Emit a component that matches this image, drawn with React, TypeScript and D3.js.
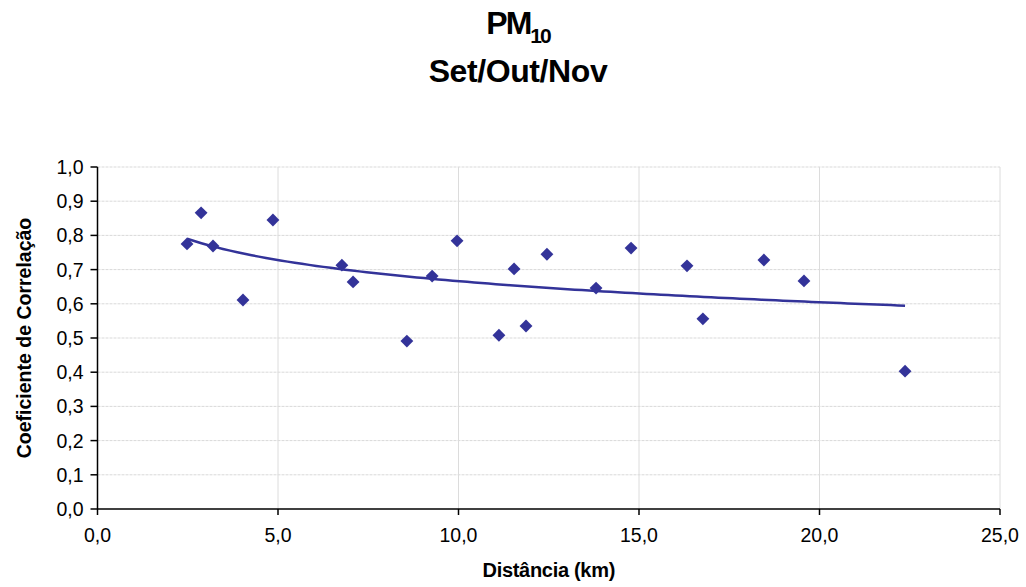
import { useMemo } from 'react'
import * as d3 from 'd3'

const WIDTH = 1026
const HEIGHT = 587
const MARGIN = { top: 167, right: 26, bottom: 78, left: 97.5 }

// distance (km) and correlation coefficient
const distancia = [
  2.48, 2.87, 3.2, 4.03, 4.86, 6.77, 7.08, 8.57, 9.27, 9.96, 11.12,
  11.54, 11.87, 12.45, 13.81, 14.78, 16.33, 16.77, 18.46, 19.57, 22.37
]
const correlacao = [
  0.775, 0.866, 0.769, 0.611, 0.845, 0.713, 0.664, 0.491, 0.681, 0.784, 0.508,
  0.702, 0.535, 0.745, 0.646, 0.763, 0.711, 0.556, 0.728, 0.667, 0.403
]
const xTicks = [0, 5, 10, 15, 20, 25]
const yTicks = [0, 0.1, 0.2, 0.3, 0.4, 0.5, 0.6, 0.7, 0.8, 0.9, 1.0]

const COLOR = '#333399'
const FONT = '"Liberation Sans", Arial, sans-serif'

const ptBR = d3.formatLocale({ decimal: ',', thousands: '.', grouping: [3], currency: ['R$', ''] })
const fmt = ptBR.format('.1f')

export default function App() {
  const innerWidth = WIDTH - MARGIN.left - MARGIN.right
  const innerHeight = HEIGHT - MARGIN.top - MARGIN.bottom

  const xScale = d3.scaleLinear().domain([0, 25]).range([0, innerWidth])
  const yScale = d3.scaleLinear().domain([0, 1]).range([innerHeight, 0])

  // logarithmic trend line (least squares on ln x), like the spreadsheet's trendline
  const trend = useMemo(() => {
    const lx = distancia.map(Math.log)
    const mx = d3.mean(lx) as number
    const my = d3.mean(correlacao) as number
    const sxy = d3.sum(lx, (v, i) => (v - mx) * (correlacao[i] - my))
    const sxx = d3.sum(lx, v => (v - mx) ** 2)
    const b = sxy / sxx
    const a = my - b * mx
    const [x0, x1] = d3.extent(distancia) as [number, number]
    const pts = d3.range(0, 101).map(k => {
      const x = x0 + (x1 - x0) * k / 100
      return [x, a + b * Math.log(x)] as [number, number]
    })
    return d3.line<[number, number]>()
      .x(d => xScale(d[0]))
      .y(d => yScale(d[1]))(pts)
  }, [])

  const diamond = d3.symbol().type(d3.symbolDiamond2).size(105)()

  return (
    <svg
      width={WIDTH}
      height={HEIGHT}
      style={{ position: 'absolute', left: 0, top: 0, background: '#fff' }}
      fontFamily={FONT}
    >
      {/* Title */}
      <text x={518} y={34} textAnchor="middle" fontSize={32} fontWeight="bold" letterSpacing={-2}>
        PM<tspan fontSize={21} dy={9}>10</tspan>
      </text>
      <text x={518} y={82} textAnchor="middle" fontSize={32} fontWeight="bold" letterSpacing={-0.4}>
        Set/Out/Nov
      </text>

      <g transform={`translate(${MARGIN.left}, ${MARGIN.top})`}>
        {/* Grid lines */}
        {yTicks.slice(1).map(t => (
          <line key={'gy' + t} x1={0} x2={innerWidth} y1={yScale(t)} y2={yScale(t)}
            stroke="#d9d9d9" strokeWidth={1} strokeDasharray="3,1" />
        ))}
        {xTicks.slice(1).map(t => (
          <line key={'gx' + t} x1={xScale(t)} x2={xScale(t)} y1={0} y2={innerHeight}
            stroke="#dcdcdc" strokeWidth={1} />
        ))}

        {/* Axes */}
        <line x1={0} x2={0} y1={0} y2={innerHeight} stroke="#000" strokeWidth={1.5} />
        <line x1={0} x2={innerWidth} y1={innerHeight} y2={innerHeight} stroke="#000" strokeWidth={1.5} />

        {yTicks.map(t => (
          <g key={'ty' + t}>
            <line x1={-7} x2={0} y1={yScale(t)} y2={yScale(t)} stroke="#000" strokeWidth={1.5} />
            <text x={-14} y={yScale(t)} dy="0.36em" textAnchor="end" fontSize={19.5} fill="#000">
              {fmt(t)}
            </text>
          </g>
        ))}
        {xTicks.map(t => (
          <g key={'tx' + t}>
            <line x1={xScale(t)} x2={xScale(t)} y1={innerHeight} y2={innerHeight + 6} stroke="#000" strokeWidth={1.5} />
            <text x={xScale(t)} y={innerHeight + 33} textAnchor="middle" fontSize={19.5} fill="#000">
              {fmt(t)}
            </text>
          </g>
        ))}

        {/* Trend line */}
        <path d={trend ?? ''} fill="none" stroke={COLOR} strokeWidth={2.5} />

        {/* Points */}
        {distancia.map((d, i) => (
          <path key={i} d={diamond ?? ''} fill={COLOR}
            transform={`translate(${xScale(d)}, ${yScale(correlacao[i])})`} />
        ))}
      </g>

      {/* Axis titles */}
      <text x={MARGIN.left + innerWidth / 2} y={577} textAnchor="middle" fontSize={20} fontWeight="bold" letterSpacing={-0.3}>
        Distância (km)
      </text>
      <text transform={`translate(31, ${MARGIN.top + innerHeight / 2}) rotate(-90)`} textAnchor="middle"
        fontSize={19.5} fontWeight="bold">
        Coeficiente de Correlação
      </text>
    </svg>
  )
}
